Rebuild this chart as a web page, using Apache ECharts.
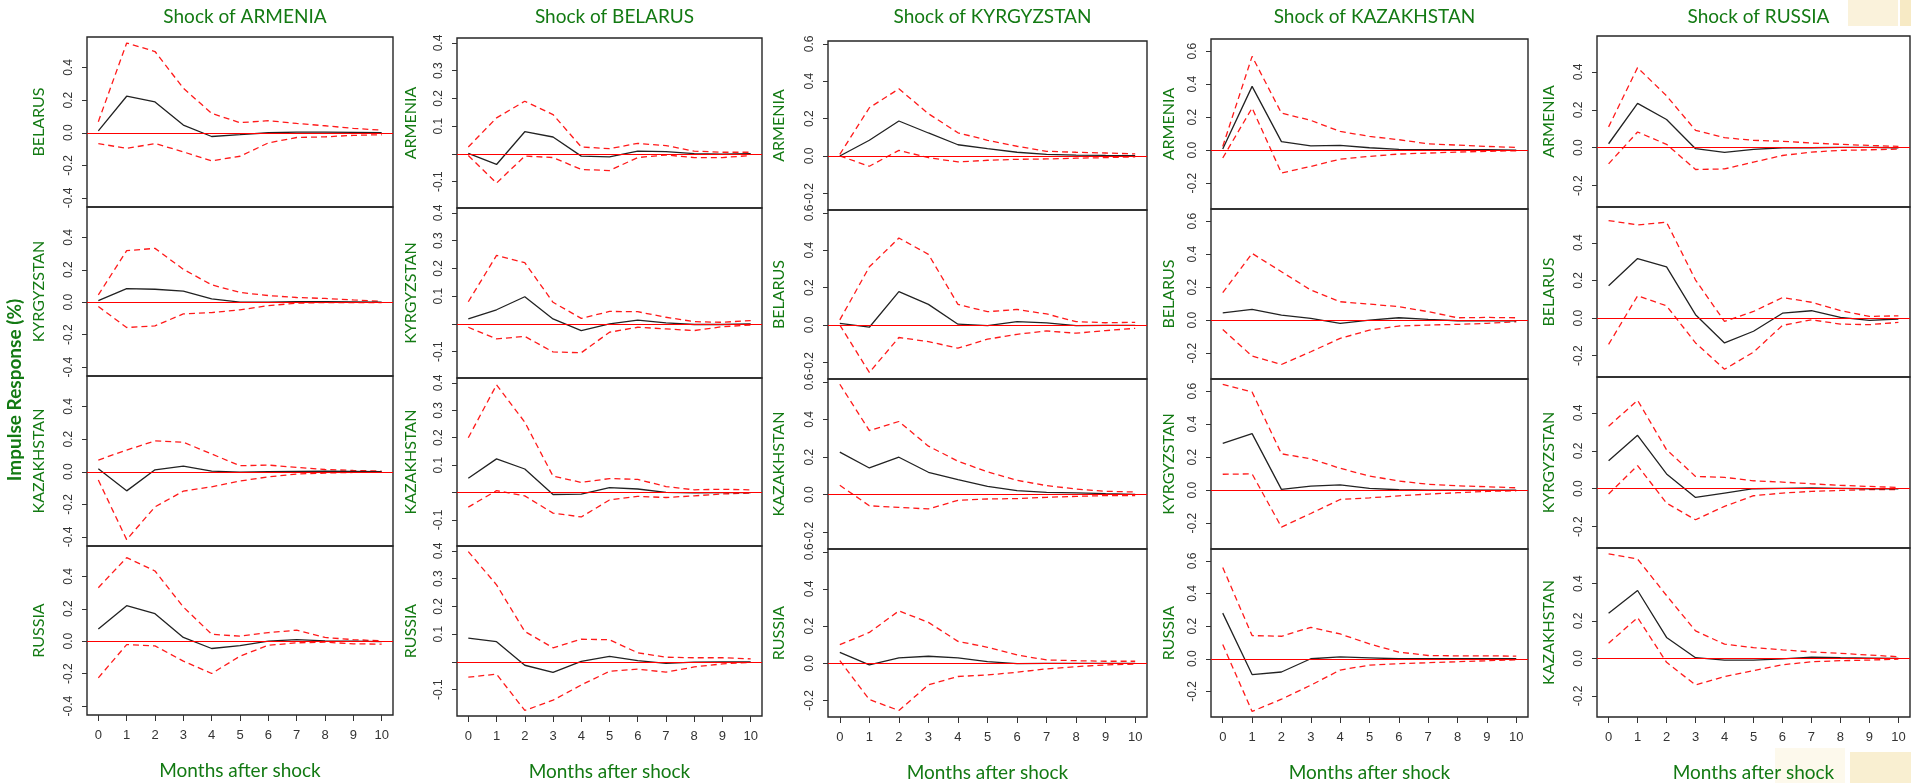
<!DOCTYPE html>
<html>
<head>
<meta charset="utf-8">
<script src="https://cdn.jsdelivr.net/npm/echarts@6/dist/echarts.min.js"></script>
<style>
  html, body { margin: 0; padding: 0; background: #fff; }
  #chart { width: 1911px; height: 783px; }
</style>
</head>
<body>
<div id="chart"></div>
<script>
// months after shock
const months = [0, 1, 2, 3, 4, 5, 6, 7, 8, 9, 10];

const shocks = ["ARMENIA", "BELARUS", "KYRGYZSTAN", "KAZAKHSTAN", "RUSSIA"];
const responders = [
  ["BELARUS", "KYRGYZSTAN", "KAZAKHSTAN", "RUSSIA"],
  ["ARMENIA", "KYRGYZSTAN", "KAZAKHSTAN", "RUSSIA"],
  ["ARMENIA", "BELARUS", "KAZAKHSTAN", "RUSSIA"],
  ["ARMENIA", "BELARUS", "KYRGYZSTAN", "RUSSIA"],
  ["ARMENIA", "BELARUS", "KYRGYZSTAN", "KAZAKHSTAN"],
];

// y axis limits and ticks, one per shock column
const yMin = [-0.455, -0.195, -0.289, -0.357, -0.313];
const yMax = [0.587, 0.418, 0.615, 0.673, 0.59];
const yTicks = [
  [-0.4, -0.2, 0, 0.2, 0.4],
  [-0.1, 0, 0.1, 0.2, 0.3, 0.4],
  [-0.2, 0, 0.2, 0.4, 0.6],
  [-0.2, 0, 0.2, 0.4, 0.6],
  [-0.2, 0, 0.2, 0.4],
];
const yLabels = [
  [-0.4, -0.2, 0, 0.2, 0.4],
  [-0.1, 0.1, 0.2, 0.3, 0.4],
  [-0.2, 0, 0.2, 0.4, 0.6],
  [-0.2, 0, 0.2, 0.4, 0.6],
  [-0.2, 0, 0.2, 0.4],
];

// ---- shock of ARMENIA ----
const irf_ARM_BEL = [0.012, 0.224, 0.189, 0.047, -0.023, -0.012, 0, 0.004, 0.004, 0.002, 0];
const up_ARM_BEL  = [0.068, 0.55, 0.498, 0.273, 0.119, 0.062, 0.074, 0.057, 0.043, 0.027, 0.016];
const lo_ARM_BEL  = [-0.066, -0.096, -0.066, -0.117, -0.172, -0.144, -0.062, -0.029, -0.025, -0.016, -0.012];

const irf_ARM_KGZ = [0.01, 0.084, 0.08, 0.068, 0.02, 0, 0, 0.004, 0.004, 0.002, 0];
const up_ARM_KGZ  = [0.045, 0.318, 0.332, 0.203, 0.107, 0.06, 0.041, 0.029, 0.023, 0.014, 0.006];
const lo_ARM_KGZ  = [-0.027, -0.156, -0.146, -0.072, -0.064, -0.047, -0.021, -0.006, -0.002, -0.002, -0.002];

const irf_ARM_KAZ = [0.018, -0.117, 0.012, 0.035, 0.004, -0.002, 0, 0.002, 0.004, 0.002, 0];
const up_ARM_KAZ  = [0.072, 0.133, 0.189, 0.181, 0.109, 0.037, 0.041, 0.027, 0.014, 0.008, 0.004];
const lo_ARM_KAZ  = [-0.051, -0.416, -0.215, -0.119, -0.092, -0.057, -0.031, -0.014, -0.008, -0.004, -0.004];

const irf_ARM_RUS = [0.076, 0.219, 0.17, 0.023, -0.045, -0.027, 0, 0.01, 0.002, 0, -0.002];
const up_ARM_RUS  = [0.33, 0.515, 0.433, 0.211, 0.043, 0.031, 0.053, 0.068, 0.023, 0.01, 0.002];
const lo_ARM_RUS  = [-0.226, -0.021, -0.029, -0.123, -0.199, -0.092, -0.025, -0.01, -0.006, -0.016, -0.018];

// ---- shock of BELARUS ----
const irf_BEL_ARM = [0.002, -0.038, 0.08, 0.061, -0.008, -0.011, 0.01, 0.008, 0.001, -0.001, 0.001];
const up_BEL_ARM  = [0.025, 0.13, 0.19, 0.142, 0.025, 0.019, 0.038, 0.03, 0.01, 0.006, 0.006];
const lo_BEL_ARM  = [-0.006, -0.105, -0.008, -0.013, -0.056, -0.06, -0.013, -0.004, -0.013, -0.013, -0.006];

const irf_BEL_KGZ = [0.018, 0.051, 0.098, 0.018, -0.024, 0, 0.014, 0.004, -0.002, -0.002, 0];
const up_BEL_KGZ  = [0.08, 0.247, 0.221, 0.078, 0.02, 0.045, 0.044, 0.024, 0.008, 0.006, 0.012];
const lo_BEL_KGZ  = [-0.012, -0.054, -0.045, -0.101, -0.104, -0.03, -0.012, -0.018, -0.024, -0.01, -0.004];

const irf_BEL_KAZ = [0.052, 0.123, 0.086, -0.007, -0.006, 0.018, 0.013, 0.001, -0.001, 0, 0];
const up_BEL_KAZ  = [0.2, 0.393, 0.257, 0.06, 0.037, 0.051, 0.048, 0.022, 0.01, 0.012, 0.01];
const lo_BEL_KAZ  = [-0.053, 0.007, -0.012, -0.075, -0.089, -0.027, -0.014, -0.018, -0.012, -0.005, -0.002];

const irf_BEL_RUS = [0.086, 0.073, -0.012, -0.038, 0.002, 0.02, 0.005, -0.005, -0.001, 0, 0];
const up_BEL_RUS  = [0.398, 0.278, 0.11, 0.051, 0.082, 0.08, 0.033, 0.017, 0.015, 0.015, 0.011];
const lo_BEL_RUS  = [-0.055, -0.044, -0.175, -0.138, -0.083, -0.034, -0.026, -0.037, -0.018, -0.007, -0.002];

// ---- shock of KYRGYZSTAN ----
const irf_KGZ_ARM = [0, 0.084, 0.187, 0.123, 0.06, 0.039, 0.02, 0.009, 0.005, 0.003, 0.002];
const up_KGZ_ARM  = [0.009, 0.258, 0.359, 0.226, 0.124, 0.084, 0.052, 0.025, 0.02, 0.016, 0.011];
const lo_KGZ_ARM  = [0, -0.055, 0.03, -0.009, -0.032, -0.023, -0.018, -0.016, -0.012, -0.009, -0.005];

const irf_KGZ_BEL = [0.009, -0.012, 0.178, 0.11, 0.004, -0.004, 0.018, 0.011, -0.004, -0.002, -0.002];
const up_KGZ_BEL  = [0.027, 0.311, 0.465, 0.378, 0.11, 0.071, 0.083, 0.059, 0.018, 0.012, 0.014];
const lo_KGZ_BEL  = [0, -0.254, -0.067, -0.089, -0.124, -0.076, -0.05, -0.032, -0.044, -0.03, -0.018];

const irf_KGZ_KAZ = [0.226, 0.142, 0.199, 0.119, 0.08, 0.044, 0.021, 0.012, 0.009, 0.005, 0.002];
const up_KGZ_KAZ  = [0.587, 0.341, 0.389, 0.258, 0.178, 0.121, 0.076, 0.048, 0.03, 0.018, 0.014];
const lo_KGZ_KAZ  = [0.05, -0.059, -0.068, -0.076, -0.03, -0.023, -0.021, -0.014, -0.009, -0.005, -0.005];

const irf_KGZ_RUS = [0.059, -0.009, 0.029, 0.038, 0.029, 0.009, -0.002, 0, 0, 0, 0];
const up_KGZ_RUS  = [0.1, 0.166, 0.282, 0.22, 0.118, 0.086, 0.045, 0.018, 0.014, 0.011, 0.011];
const lo_KGZ_RUS  = [0.014, -0.195, -0.254, -0.116, -0.071, -0.063, -0.048, -0.03, -0.018, -0.009, -0.004];

// ---- shock of KAZAKHSTAN ----
const irf_KAZ_ARM = [0.006, 0.386, 0.051, 0.026, 0.028, 0.014, 0.004, 0.002, 0.002, 0.002, 0];
const up_KAZ_ARM  = [0.022, 0.568, 0.224, 0.18, 0.113, 0.083, 0.063, 0.038, 0.03, 0.022, 0.016];
const lo_KAZ_ARM  = [-0.048, 0.255, -0.139, -0.099, -0.055, -0.038, -0.024, -0.018, -0.012, -0.008, -0.004];

const irf_KAZ_BEL = [0.044, 0.065, 0.03, 0.01, -0.02, 0, 0.014, 0.004, -0.004, -0.004, -0.004];
const up_KAZ_BEL  = [0.166, 0.404, 0.293, 0.182, 0.111, 0.097, 0.081, 0.051, 0.014, 0.016, 0.014];
const lo_KAZ_BEL  = [-0.057, -0.218, -0.269, -0.192, -0.111, -0.061, -0.036, -0.03, -0.026, -0.02, -0.01];

const irf_KAZ_KGZ = [0.283, 0.342, 0.004, 0.024, 0.031, 0.01, 0.002, 0, 0, 0, 0];
const up_KAZ_KGZ  = [0.641, 0.594, 0.22, 0.189, 0.132, 0.085, 0.055, 0.035, 0.026, 0.02, 0.014];
const lo_KAZ_KGZ  = [0.096, 0.098, -0.224, -0.142, -0.057, -0.047, -0.035, -0.024, -0.016, -0.008, -0.004];

const irf_KAZ_RUS = [0.28, -0.097, -0.081, 0, 0.012, 0.006, 0, 0, 0, 0, 0];
const up_KAZ_RUS  = [0.56, 0.142, 0.138, 0.193, 0.152, 0.091, 0.041, 0.02, 0.018, 0.018, 0.016];
const lo_KAZ_RUS  = [0.087, -0.323, -0.248, -0.162, -0.069, -0.039, -0.03, -0.024, -0.018, -0.012, -0.006];

// ---- shock of RUSSIA ----
const irf_RUS_ARM = [0.021, 0.234, 0.149, -0.005, -0.025, -0.009, 0, 0, 0.002, 0.002, 0];
const up_RUS_ARM  = [0.11, 0.423, 0.274, 0.092, 0.053, 0.039, 0.034, 0.025, 0.018, 0.012, 0.007];
const lo_RUS_ARM  = [-0.085, 0.083, 0.018, -0.115, -0.112, -0.076, -0.041, -0.023, -0.014, -0.011, -0.007];

const irf_RUS_BEL = [0.172, 0.316, 0.272, 0.018, -0.132, -0.07, 0.026, 0.039, 0.004, -0.012, -0.005];
const up_RUS_BEL  = [0.518, 0.495, 0.509, 0.202, -0.018, 0.035, 0.109, 0.084, 0.04, 0.009, 0.012];
const lo_RUS_BEL  = [-0.14, 0.118, 0.065, -0.132, -0.272, -0.181, -0.039, -0.009, -0.032, -0.035, -0.023];

const irf_RUS_KGZ = [0.148, 0.282, 0.078, -0.046, -0.023, 0, 0.002, 0.004, 0.002, 0, 0];
const up_RUS_KGZ  = [0.33, 0.467, 0.206, 0.065, 0.06, 0.042, 0.035, 0.026, 0.018, 0.012, 0.007];
const lo_RUS_KGZ  = [-0.028, 0.122, -0.076, -0.164, -0.093, -0.037, -0.023, -0.014, -0.009, -0.005, -0.004];

const irf_RUS_KAZ = [0.241, 0.363, 0.112, 0.004, -0.009, -0.009, -0.002, 0.007, 0.004, 0.002, 0];
const up_RUS_KAZ  = [0.559, 0.531, 0.336, 0.147, 0.076, 0.058, 0.046, 0.035, 0.027, 0.018, 0.009];
const lo_RUS_KAZ  = [0.081, 0.218, -0.021, -0.142, -0.097, -0.065, -0.034, -0.018, -0.012, -0.009, -0.004];

const panels = [
  [[irf_ARM_BEL, up_ARM_BEL, lo_ARM_BEL], [irf_ARM_KGZ, up_ARM_KGZ, lo_ARM_KGZ],
   [irf_ARM_KAZ, up_ARM_KAZ, lo_ARM_KAZ], [irf_ARM_RUS, up_ARM_RUS, lo_ARM_RUS]],
  [[irf_BEL_ARM, up_BEL_ARM, lo_BEL_ARM], [irf_BEL_KGZ, up_BEL_KGZ, lo_BEL_KGZ],
   [irf_BEL_KAZ, up_BEL_KAZ, lo_BEL_KAZ], [irf_BEL_RUS, up_BEL_RUS, lo_BEL_RUS]],
  [[irf_KGZ_ARM, up_KGZ_ARM, lo_KGZ_ARM], [irf_KGZ_BEL, up_KGZ_BEL, lo_KGZ_BEL],
   [irf_KGZ_KAZ, up_KGZ_KAZ, lo_KGZ_KAZ], [irf_KGZ_RUS, up_KGZ_RUS, lo_KGZ_RUS]],
  [[irf_KAZ_ARM, up_KAZ_ARM, lo_KAZ_ARM], [irf_KAZ_BEL, up_KAZ_BEL, lo_KAZ_BEL],
   [irf_KAZ_KGZ, up_KAZ_KGZ, lo_KAZ_KGZ], [irf_KAZ_RUS, up_KAZ_RUS, lo_KAZ_RUS]],
  [[irf_RUS_ARM, up_RUS_ARM, lo_RUS_ARM], [irf_RUS_BEL, up_RUS_BEL, lo_RUS_BEL],
   [irf_RUS_KGZ, up_RUS_KGZ, lo_RUS_KGZ], [irf_RUS_KAZ, up_RUS_KAZ, lo_RUS_KAZ]],
];

// layout (pixels)
const colLeft = [87, 457, 828, 1211, 1597];
const colRight = [393, 762, 1147, 1528, 1910];
const rowEdges = [
  [37, 207, 376, 546, 715],
  [38, 208, 378, 546, 716],
  [41, 210, 379, 549, 718],
  [39, 209, 379, 549, 718],
  [36, 207, 377, 548, 718],
];
const nameGaps = [40, 38, 41, 34, 40];

const green = "#137a13";
const font = "Lato, 'Open Sans', sans-serif";

const grid = [], xAxis = [], yAxis = [], series = [], title = [];

shocks.forEach((shock, c) => {
  title.push({
    text: "Shock of " + shock,
    left: (colLeft[c] + colRight[c]) / 2,
    top: 2,
    textAlign: "center",
    textStyle: { color: green, fontFamily: font, fontSize: 19, fontWeight: "normal" },
  });
  for (let r = 0; r < 4; r++) {
    const idx = grid.length;
    const bottomRow = r === 3;
    grid.push({
      left: colLeft[c],
      top: rowEdges[c][r],
      width: colRight[c] - colLeft[c],
      height: rowEdges[c][r + 1] - rowEdges[c][r],
      show: true,
      borderColor: "#262626",
      borderWidth: 1.4,
      backgroundColor: "transparent",
    });
    xAxis.push({
      type: "value",
      gridIndex: idx,
      min: -0.4,
      max: 10.4,
      splitLine: { show: false },
      axisLine: { show: false, onZero: false },
      axisTick: {
        show: bottomRow,
        customValues: months,
        length: 6,
        lineStyle: { color: "#333" },
      },
      axisLabel: {
        show: bottomRow,
        customValues: months,
        margin: 14,
        color: "#333",
        fontSize: 13,
        fontFamily: "Liberation Sans, Arial, sans-serif",
      },
      name: bottomRow ? "Months after shock" : "",
      nameLocation: "middle",
      nameGap: 46,
      nameTextStyle: { color: green, fontFamily: font, fontSize: 19 },
    });
    yAxis.push({
      type: "value",
      gridIndex: idx,
      min: yMin[c],
      max: yMax[c],
      splitLine: { show: false },
      axisLine: { show: false, onZero: false },
      axisTick: {
        customValues: yTicks[c],
        length: 5,
        lineStyle: { color: "#333" },
      },
      axisLabel: {
        customValues: yLabels[c],
        rotate: 90,
        margin: 12,
        color: "#333",
        fontSize: 12,
        fontFamily: "Liberation Sans, Arial, sans-serif",
        formatter: (v) => v.toFixed(1),
      },
      name: responders[c][r],
      nameLocation: "middle",
      nameRotate: 90,
      nameGap: nameGaps[c],
      nameTextStyle: { color: green, fontFamily: font, fontSize: 16 },
    });
    const [irf, up, lo] = panels[c][r];
    const pts = (arr) => months.map((m, i) => [m, arr[i]]);
    series.push({
      type: "line",
      xAxisIndex: idx,
      yAxisIndex: idx,
      data: pts(irf),
      symbol: "none",
      lineStyle: { color: "#222", width: 1.3 },
      z: 3,
      markLine: {
        silent: true,
        symbol: "none",
        label: { show: false },
        lineStyle: { color: "#ff0000", type: "solid", width: 1.2 },
        data: [{ yAxis: 0 }],
      },
    });
    [up, lo].forEach((band) => {
      series.push({
        type: "line",
        xAxisIndex: idx,
        yAxisIndex: idx,
        data: pts(band),
        symbol: "none",
        lineStyle: { color: "#ff1a1a", width: 1.3, type: [6, 4] },
        z: 2,
      });
    });
  }
});

const chart = echarts.init(document.getElementById("chart"));
chart.setOption({
  animation: false,
  backgroundColor: "#fff",
  title,
  grid,
  xAxis,
  yAxis,
  series,
  graphic: [
    {
      type: "text",
      x: 15,
      y: 390,
      rotation: Math.PI / 2,
      style: {
        text: "Impulse Response (%)",
        fill: green,
        font: "bold 19px " + font,
        textAlign: "center",
        textVerticalAlign: "middle",
      },
    },
    // faint watermark in the corners
    { type: "rect", shape: { x: 1848, y: 0, width: 50, height: 26 }, style: { fill: "rgba(232,196,90,0.22)" }, z: -1 },
    { type: "rect", shape: { x: 1900, y: 0, width: 11, height: 26 }, style: { fill: "rgba(232,196,90,0.35)" }, z: -1 },
    { type: "rect", shape: { x: 1775, y: 748, width: 70, height: 35 }, style: { fill: "rgba(240,210,120,0.14)" }, z: -1 },
    { type: "rect", shape: { x: 1850, y: 752, width: 61, height: 31 }, style: { fill: "rgba(232,196,90,0.28)" }, z: -1 },
  ],
});
</script>
</body>
</html>
